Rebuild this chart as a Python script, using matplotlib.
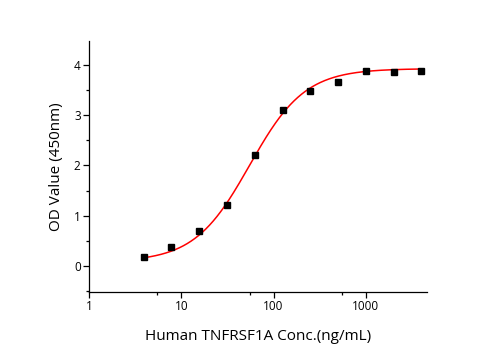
import numpy as np
import matplotlib
matplotlib.use("Agg")
import matplotlib.pyplot as plt
from matplotlib.ticker import FixedLocator, NullFormatter

plt.rcParams['font.family'] = ['Open Sans', 'DejaVu Sans']

conc = [3.9, 7.8, 15.6, 31.25, 62.5, 125, 250, 500, 1000, 2000, 4000]
od = [0.18, 0.38, 0.70, 1.21, 2.20, 3.10, 3.49, 3.66, 3.88, 3.86, 3.89]

# 4-parameter logistic fit parameters
fit_bottom = 0.08
fit_top = 3.93
fit_ec50 = 55.0
fit_hill = 1.45

fig = plt.figure(figsize=(4.95, 3.5), dpi=100)
ax = fig.add_axes([89/495, 1-292/350, (426.5-88.5)/495, (292-41)/350])

xs = np.logspace(np.log10(conc[0]), np.log10(conc[-1]), 300)
ys = fit_top + (fit_bottom - fit_top) / (1 + (xs / fit_ec50) ** fit_hill)
ax.plot(xs, ys, color='#ff0000', lw=1.1, zorder=2)
ax.plot(conc, od, 's', color='black', ms=4.5, zorder=3)

ax.set_xscale('log')
ax.set_xlim(1, 4600)
ax.set_ylim(-0.52, 4.48)
ax.xaxis.set_major_locator(FixedLocator([1, 10, 100, 1000]))
ax.set_xticklabels(['1', '10', '100', '1000'])
ax.xaxis.set_minor_locator(FixedLocator([5.5, 55, 550]))
ax.xaxis.set_minor_formatter(NullFormatter())
ax.set_yticks([0, 1, 2, 3, 4])
ax.yaxis.set_minor_locator(FixedLocator([-0.5, 0.5, 1.5, 2.5, 3.5]))

for s in ['top', 'right']:
    ax.spines[s].set_visible(False)
for s in ['left', 'bottom']:
    ax.spines[s].set_linewidth(0.9)

ax.tick_params(which='major', direction='out', length=4, width=0.9, labelsize=8.5, pad=2)
ax.tick_params(which='minor', direction='out', length=2.5, width=0.9)

ax.set_xlabel('Human TNFRSF1A Conc.(ng/mL)', fontsize=11, labelpad=11)
ax.set_ylabel('OD Value (450nm)', fontsize=11, labelpad=7)

fig.savefig('out.png', dpi=100)
